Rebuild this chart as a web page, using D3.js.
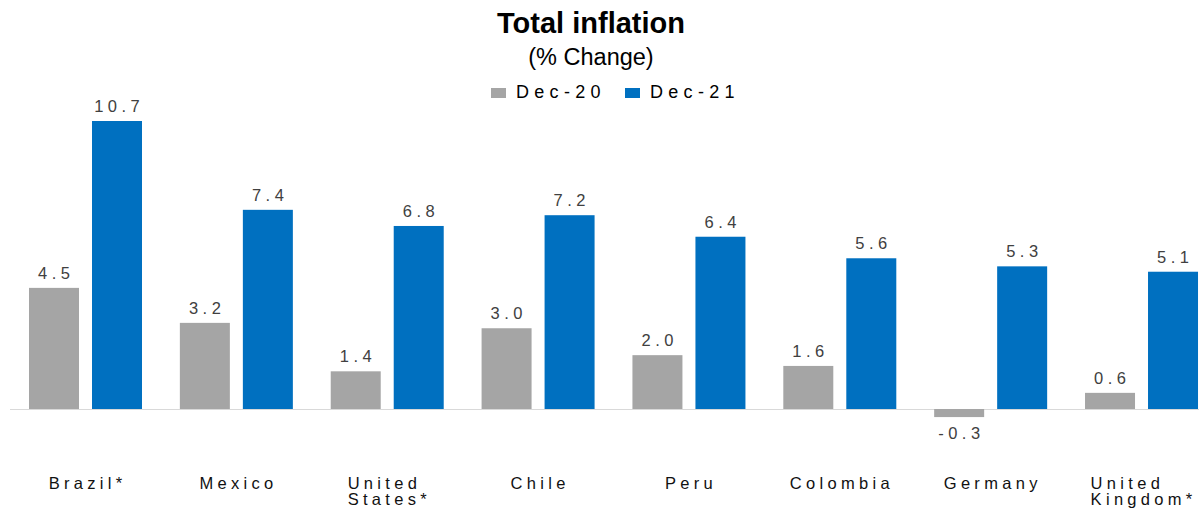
<!DOCTYPE html>
<html>
<head>
<meta charset="utf-8">
<script src="https://cdn.jsdelivr.net/npm/d3@7"></script>
<style>
  html, body { margin: 0; padding: 0; background: #fff; }
  svg { display: block; font-family: "Liberation Sans", Arial, sans-serif; }
</style>
</head>
<body>
<svg id="chart" width="1199" height="513"></svg>
<script>
// Headline inflation by country, year-on-year % change
const categories = ["Brazil*", "Mexico", "United States*", "Chile", "Peru", "Colombia", "Germany", "United Kingdom*"];
const seriesNames = ["Dec-20", "Dec-21"];
const dec20 = [4.5, 3.2, 1.4, 3.0, 2.0, 1.6, -0.3, 0.6];
const dec21 = [10.7, 7.4, 6.8, 7.2, 6.4, 5.6, 5.3, 5.1];
const seriesValues = [dec20, dec21];
const colors = ["#a5a5a5", "#0070c0"];

const W = 1199, H = 513;
const svg = d3.select("#chart");

const baseY = 409;
const y = d3.scaleLinear().domain([0, 10.7]).range([baseY, 121]);

const step = 150.86;
const x0 = d3.scaleBand().domain(categories).range([10, 10 + step * categories.length]).padding(0);
const x1 = d3.scaleBand().domain(seriesNames).range([19, 132]).paddingInner(13 / 63).paddingOuter(0);

// Title block
svg.append("text").attr("x", 591).attr("y", 33).attr("text-anchor", "middle")
  .attr("font-size", 29).attr("font-weight", "bold").attr("fill", "#000")
  .text("Total inflation");
svg.append("text").attr("x", 591).attr("y", 65).attr("text-anchor", "middle")
  .attr("font-size", 23.5).attr("fill", "#000")
  .text("(% Change)");

// Legend
const legendX = [491, 625];
const legend = svg.append("g");
seriesNames.forEach((name, i) => {
  legend.append("rect").attr("x", legendX[i]).attr("y", 88).attr("width", 15).attr("height", 10)
    .attr("fill", colors[i]);
  legend.append("text").attr("x", legendX[i] + 25).attr("y", 98)
    .attr("font-size", 18).attr("letter-spacing", "5.3px").attr("fill", "#000")
    .text(name);
});

// Zero line
svg.append("line").attr("x1", 10).attr("x2", W).attr("y1", baseY + 0.5).attr("y2", baseY + 0.5)
  .attr("stroke", "#d9d9d9").attr("stroke-width", 1);

// Bars and value labels
const rows = categories.map((c, ci) => ({
  cat: c,
  vals: seriesNames.map((s, si) => ({ series: s, si, value: seriesValues[si][ci] }))
}));

const groups = svg.selectAll("g.group").data(rows).join("g")
  .attr("class", "group")
  .attr("transform", d => `translate(${x0(d.cat)},0)`);

groups.selectAll("rect").data(d => d.vals).join("rect")
  .attr("x", d => x1(d.series))
  .attr("width", x1.bandwidth())
  .attr("y", d => Math.min(y(d.value), y(0)))
  .attr("height", d => Math.abs(y(d.value) - y(0)))
  .attr("fill", d => colors[d.si]);

const valSpacing = 4.5;
groups.selectAll("text.val").data(d => d.vals).join("text")
  .attr("class", "val")
  .attr("x", d => x1(d.series) + x1.bandwidth() / 2 + valSpacing / 2)
  .attr("y", d => d.value >= 0 ? y(d.value) - 9 : y(d.value) + 22)
  .attr("text-anchor", "middle")
  .attr("font-size", 16.5)
  .attr("letter-spacing", valSpacing + "px")
  .attr("fill", "#404040")
  .text(d => d.value.toFixed(1));

// Category labels, multi-word names wrap to one word per line, left-aligned block
const catSpacing = 4.3;
groups.each(function(d) {
  const g = d3.select(this);
  const lines = d.cat.includes(" ") ? d.cat.split(" ") : [d.cat];
  const t = g.append("text")
    .attr("font-size", 16.5).attr("letter-spacing", catSpacing + "px").attr("fill", "#111");
  const spans = lines.map((ln, li) => t.append("tspan").attr("y", 489 + li * 16).text(ln));
  const widths = spans.map(s => s.node().getComputedTextLength() - catSpacing);
  const blockW = d3.max(widths);
  const left = x0.bandwidth() / 2 - blockW / 2;
  spans.forEach(s => s.attr("x", left));
});
</script>
</body>
</html>
